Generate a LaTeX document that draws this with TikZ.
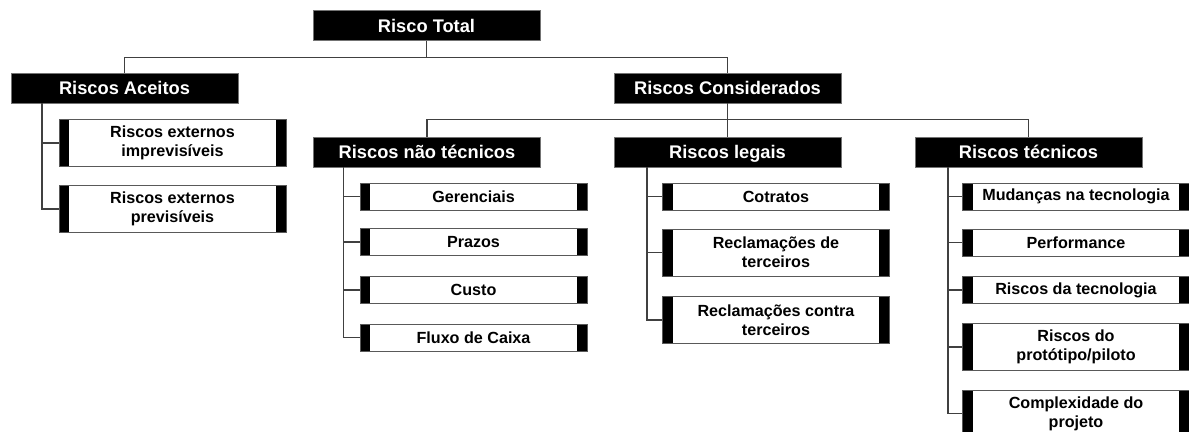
\documentclass[tikz,border=0pt]{standalone}
\usepackage{fontspec}
\setmainfont{Liberation Sans}
\usepackage{tikz}
\tikzstyle{header} = [rectangle, minimum width=170pt, minimum height=22.5pt, inner sep=0pt, text height=9.8pt, text depth=0pt, text centered, draw=black!55, fill=black, text=white, font=\fontsize{13.7}{16}\selectfont\bfseries]
\tikzstyle{leaf} = [rectangle, minimum width=170pt, minimum height=20.25pt, inner sep=0pt, align=center, draw=black!65, fill=white, font=\fontsize{12.1}{14.25}\selectfont\bfseries, path picture={\fill[black] (path picture bounding box.south west) rectangle ([xshift=7.5pt]path picture bounding box.north west); \fill[black] ([xshift=-7.5pt]path picture bounding box.south east) rectangle (path picture bounding box.north east);}]
\tikzstyle{tall} = [minimum height=35.25pt]
\tikzstyle{link} = [line width=1pt, draw=black!75]

\begin{document}
\begin{tikzpicture}[x=0.75pt, y=-0.75pt]
    \useasboundingbox (0,0) rectangle (1189,432);
    \clip (0,0) rectangle (1189,432);
    % headers
    \node (rt) [header] at (426.5,25.5) {Risco Total};
    \node (ra) [header] at (124.5,88) {Riscos Aceitos};
    \node (rc) [header] at (727.5,88) {Riscos Considerados};
    \node (rnt) [header] at (427,152) {Riscos não técnicos};
    \node (rl) [header] at (727.5,152) {Riscos legais};
    \node (rtec) [header] at (1028.5,152) {Riscos técnicos};
    % leaves
    \node (ra1) [leaf, tall] at (172.5,143) {Riscos externos\\imprevisíveis};
    \node (ra2) [leaf, tall] at (172.5,209) {Riscos externos\\previsíveis};
    \node (nt1) [leaf] at (473.5,196.5) {Gerenciais};
    \node (nt2) [leaf] at (473.5,242) {Prazos};
    \node (nt3) [leaf] at (473.5,290) {Custo};
    \node (nt4) [leaf] at (473.5,337.5) {Fluxo de Caixa};
    \node (lg1) [leaf] at (776,196.5) {Cotratos};
    \node (lg2) [leaf, tall] at (776,252.5) {Reclamações de\\terceiros};
    \node (lg3) [leaf, tall] at (776,320) {Reclamações contra\\terceiros};
    \node (tc1) [leaf] at (1076,196.5) {Mudanças na tecnologia};
    \node (tc2) [leaf] at (1076,242.5) {Performance};
    \node (tc3) [leaf] at (1076,290) {Riscos da tecnologia};
    \node (tc4) [leaf, tall] at (1076,347) {Riscos do\\protótipo/piloto};
    \node (tc5) [leaf, tall] at (1076,413.5) {Complexidade do\\projeto};
    % connectors
    \draw [link] (rt.south) -- ++(0,16.5) coordinate (bus1);
    \draw [link] (ra.north) |- (bus1) -| (rc.north);
    \draw [link] (rc.south) -- ++(0,16.5) coordinate (bus2);
    \draw [link] (rnt.north) |- (bus2) -| (rtec.north);
    \draw [link] (bus2) -- (rl.north);
    \draw [link] ([xshift=23.25pt]ra.south west) |- (ra1.west);
    \draw [link] ([xshift=23.25pt]ra.south west) |- (ra2.west);
    \draw [link] ([xshift=22.5pt]rnt.south west) |- (nt1.west);
    \draw [link] ([xshift=22.5pt]rnt.south west) |- (nt2.west);
    \draw [link] ([xshift=22.5pt]rnt.south west) |- (nt3.west);
    \draw [link] ([xshift=22.5pt]rnt.south west) |- (nt4.west);
    \draw [link] ([xshift=24.75pt]rl.south west) |- (lg1.west);
    \draw [link] ([xshift=24.75pt]rl.south west) |- (lg2.west);
    \draw [link] ([xshift=24.75pt]rl.south west) |- (lg3.west);
    \draw [link] ([xshift=24.75pt]rtec.south west) |- (tc1.west);
    \draw [link] ([xshift=24.75pt]rtec.south west) |- (tc2.west);
    \draw [link] ([xshift=24.75pt]rtec.south west) |- (tc3.west);
    \draw [link] ([xshift=24.75pt]rtec.south west) |- (tc4.west);
    \draw [link] ([xshift=24.75pt]rtec.south west) |- (tc5.west);
\end{tikzpicture}
\end{document}
